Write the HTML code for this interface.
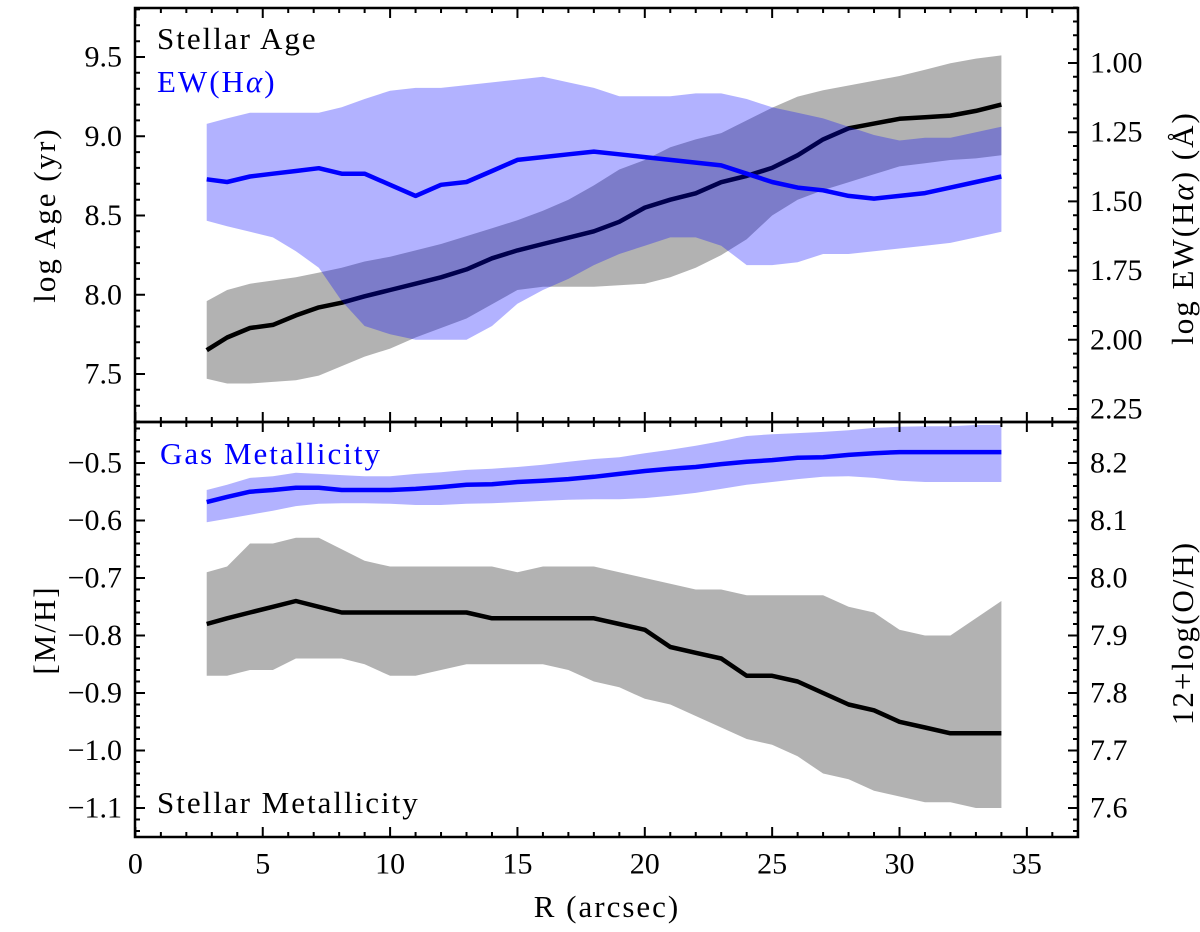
<!DOCTYPE html>
<html><head><meta charset="utf-8"><style>
html,body{margin:0;padding:0;background:#fff;}
svg{display:block;font-family:"Liberation Serif","DejaVu Serif",serif;}
</style></head><body>
<svg id="chart" width="1200" height="932" viewBox="0 0 1200 932" xmlns="http://www.w3.org/2000/svg">
<defs>
<clipPath id="clipTop"><rect x="135" y="8" width="943" height="414"/></clipPath>
<clipPath id="clipBot"><rect x="135" y="422" width="943" height="415"/></clipPath>
</defs>
<g id="topPlot" clip-path="url(#clipTop)"></g>
<g id="botPlot" clip-path="url(#clipBot)"></g>
<g id="axes"></g>
<g font-size="31" letter-spacing="2">
<text x="157" y="49" fill="#000">Stellar Age</text>
<text x="157" y="92" fill="#0000ff">EW(H<tspan font-style="italic">α</tspan>)</text>
<text x="160" y="464" fill="#0000ff">Gas Metallicity</text>
<text x="157" y="813" fill="#000">Stellar Metallicity</text>
<text transform="translate(55,215) rotate(-90)" text-anchor="middle">log Age (yr)</text>
<text transform="translate(55,630) rotate(-90)" text-anchor="middle">[M/H]</text>
<text transform="translate(1193,228) rotate(-90)" text-anchor="middle">log EW(H<tspan font-style="italic">α</tspan>) (Å)</text>
<text transform="translate(1193,633) rotate(-90)" text-anchor="middle">12+log(O/H)</text>
<text x="607" y="917" text-anchor="middle">R (arcsec)</text>
</g>
</svg>
<script>
const R = [2.8,3.6,4.5,5.4,6.3,7.2,8.1,9.0,10,11,12,13,14,15,16,17,18,19,20,21,22,23,24,25,26,27,28,29,30,31,32,33,34];
const ageMed = [7.65,7.73,7.79,7.81,7.87,7.92,7.95,7.99,8.03,8.07,8.11,8.16,8.23,8.28,8.32,8.36,8.40,8.46,8.55,8.60,8.64,8.71,8.75,8.80,8.88,8.98,9.05,9.08,9.11,9.12,9.13,9.16,9.20];
const ageHi = [7.96,8.03,8.07,8.09,8.11,8.14,8.17,8.21,8.24,8.28,8.32,8.37,8.42,8.47,8.53,8.60,8.69,8.79,8.85,8.93,8.98,9.02,9.10,9.18,9.25,9.29,9.32,9.35,9.38,9.42,9.46,9.49,9.51];
const ageLo = [7.47,7.44,7.44,7.45,7.46,7.49,7.55,7.61,7.66,7.73,7.79,7.85,7.94,8.03,8.05,8.05,8.05,8.06,8.07,8.11,8.17,8.25,8.35,8.50,8.60,8.66,8.71,8.76,8.81,8.83,8.85,8.86,8.88];
const ewMed = [1.42,1.43,1.41,1.40,1.39,1.38,1.40,1.40,1.44,1.48,1.44,1.43,1.39,1.35,1.34,1.33,1.32,1.33,1.34,1.35,1.36,1.37,1.40,1.43,1.45,1.46,1.48,1.49,1.48,1.47,1.45,1.43,1.41];
const ewHi = [1.22,1.20,1.18,1.18,1.18,1.18,1.16,1.13,1.10,1.09,1.09,1.08,1.07,1.06,1.05,1.07,1.09,1.12,1.12,1.12,1.11,1.11,1.13,1.16,1.18,1.20,1.23,1.26,1.28,1.27,1.27,1.25,1.23];
const ewLo = [1.57,1.59,1.61,1.63,1.68,1.74,1.86,1.95,1.98,2.00,2.00,2.00,1.95,1.87,1.82,1.78,1.73,1.69,1.66,1.63,1.63,1.66,1.73,1.73,1.72,1.69,1.69,1.68,1.67,1.66,1.65,1.63,1.61];
const mhMed = [-0.78,-0.77,-0.76,-0.75,-0.74,-0.75,-0.76,-0.76,-0.76,-0.76,-0.76,-0.76,-0.77,-0.77,-0.77,-0.77,-0.77,-0.78,-0.79,-0.82,-0.83,-0.84,-0.87,-0.87,-0.88,-0.90,-0.92,-0.93,-0.95,-0.96,-0.97,-0.97,-0.97];
const mhHi = [-0.69,-0.68,-0.64,-0.64,-0.63,-0.63,-0.65,-0.67,-0.68,-0.68,-0.68,-0.68,-0.68,-0.69,-0.68,-0.68,-0.68,-0.69,-0.70,-0.71,-0.72,-0.72,-0.73,-0.73,-0.73,-0.73,-0.75,-0.76,-0.79,-0.80,-0.80,-0.77,-0.74];
const mhLo = [-0.87,-0.87,-0.86,-0.86,-0.84,-0.84,-0.84,-0.85,-0.87,-0.87,-0.86,-0.85,-0.85,-0.85,-0.85,-0.86,-0.88,-0.89,-0.91,-0.92,-0.94,-0.96,-0.98,-0.99,-1.01,-1.04,-1.05,-1.07,-1.08,-1.09,-1.09,-1.10,-1.10];
const ohMed = [8.132,8.141,8.150,8.153,8.157,8.157,8.153,8.153,8.153,8.155,8.158,8.162,8.163,8.167,8.169,8.172,8.176,8.181,8.186,8.190,8.193,8.198,8.202,8.205,8.209,8.210,8.214,8.217,8.219,8.219,8.219,8.219,8.219];
const ohHi = [8.153,8.162,8.174,8.177,8.183,8.181,8.179,8.177,8.177,8.181,8.184,8.188,8.190,8.193,8.197,8.202,8.207,8.210,8.217,8.223,8.230,8.238,8.247,8.250,8.252,8.254,8.257,8.261,8.263,8.264,8.264,8.266,8.266];
const ohLo = [8.097,8.103,8.110,8.117,8.125,8.129,8.130,8.130,8.129,8.127,8.127,8.129,8.130,8.132,8.134,8.136,8.137,8.137,8.139,8.143,8.148,8.155,8.162,8.167,8.172,8.176,8.177,8.174,8.169,8.167,8.167,8.167,8.167];
const xTicks = [0,5,10,15,20,25,30,35];
const ageTicks = [7.5,8.0,8.5,9.0,9.5];
const ewTicks = [1.00,1.25,1.50,1.75,2.00,2.25];
const mhTicks = [-1.1,-1.0,-0.9,-0.8,-0.7,-0.6,-0.5];
const ohTicks = [7.6,7.7,7.8,7.9,8.0,8.1,8.2];

const NS = "http://www.w3.org/2000/svg";
const X0 = 135.4, XS = 25.47;
const xs = v => X0 + v * XS;
const yAge = v => 57 + (9.5 - v) * 158.5;
const yEW = v => 63 + (v - 1.0) * 276.8;
const yMH = v => 463 + (-0.5 - v) * 575;
const yOH = v => 463 + (8.2 - v) * 575;

function mk(tag, attrs, parent) {
  const e = document.createElementNS(NS, tag);
  for (const k in attrs) e.setAttribute(k, attrs[k]);
  parent.appendChild(e);
  return e;
}
function linePath(xv, yv, fy) {
  return xv.map((x, i) => (i ? "L" : "M") + xs(x).toFixed(1) + "," + fy(yv[i]).toFixed(1)).join("");
}
function bandPath(xv, hi, lo, fy) {
  let d = linePath(xv, hi, fy);
  for (let i = xv.length - 1; i >= 0; i--) d += "L" + xs(xv[i]).toFixed(1) + "," + fy(lo[i]).toFixed(1);
  return d + "Z";
}
const topG = document.getElementById("topPlot");
const botG = document.getElementById("botPlot");
const axesG = document.getElementById("axes");

let e;
e = mk("path", {d: bandPath(R, ageHi, ageLo, yAge), fill: "#000", "fill-opacity": "0.3"}, topG);


e = mk("path", {d: linePath(R, ageMed, yAge), fill: "none", stroke: "#000", "stroke-width": "4.5", "stroke-linejoin": "round"}, topG);


e = mk("path", {d: bandPath(R, ewHi, ewLo, yEW), fill: "#0000ff", "fill-opacity": "0.3"}, topG);


e = mk("path", {d: linePath(R, ewMed, yEW), fill: "none", stroke: "#0000ff", "stroke-width": "4.5", "stroke-linejoin": "round"}, topG);



e = mk("path", {d: bandPath(R, mhHi, mhLo, yMH), fill: "#000", "fill-opacity": "0.3"}, botG);


e = mk("path", {d: linePath(R, mhMed, yMH), fill: "none", stroke: "#000", "stroke-width": "4.5", "stroke-linejoin": "round"}, botG);


e = mk("path", {d: bandPath(R, ohHi, ohLo, yOH), fill: "#0000ff", "fill-opacity": "0.3"}, botG);


e = mk("path", {d: linePath(R, ohMed, yOH), fill: "none", stroke: "#0000ff", "stroke-width": "4.5", "stroke-linejoin": "round"}, botG);



let tp = "";
const L = 135, RT = 1078, T1 = 8, M = 422, B2 = 837;
for (let v = 0; v <= 37; v++) {
  const x = xs(v), len = v % 5 === 0 ? 10 : 5;
  [T1, M, B2].forEach(yy => {
    if (yy !== T1) tp += `M${x},${yy}v${-len}`;
    if (yy !== B2) tp += `M${x},${yy}v${len}`;
  });
}
function yTicks(fy, lo, hi, step, majEvery, x, dir, ymin, ymax) {
  const n = Math.round((hi - lo) / step);
  for (let i = 0; i <= n; i++) {
    const v = lo + i * step, y = fy(v);
    if (y < ymin - 0.5 || y > ymax + 0.5) continue;
    const len = i % majEvery === 0 ? 10 : 5;
    tp += `M${x},${y.toFixed(1)}h${dir * len}`;
  }
}
yTicks(yAge, 7.0, 9.8, 0.1, 5, L, 1, T1, M);
yTicks(yEW, 0.75, 2.3, 0.05, 5, RT, -1, T1, M);
yTicks(yMH, -1.2, -0.4, 0.02, 5, L, 1, M, B2);
yTicks(yOH, 7.5, 8.3, 0.02, 5, RT, -1, M, B2);
e = mk("path", {d: tp, stroke: "#000", "stroke-width": "2", fill: "none"}, axesG);


e = mk("rect", {x: L, y: T1, width: RT - L, height: M - T1, fill: "none", stroke: "#000", "stroke-width": "2.5"}, axesG);


e = mk("rect", {x: L, y: M, width: RT - L, height: B2 - M, fill: "none", stroke: "#000", "stroke-width": "2.5"}, axesG);



function label(txt, x, y, anchor, name) {
  const t = mk("text", {x: x, y: y, "text-anchor": anchor, "font-size": "30", "dominant-baseline": "central"}, axesG);
  t.textContent = txt;
  
  
}
const fmt = (v, d) => v.toFixed(d).replace("-", "\u2212");
xTicks.forEach(v => label(String(v), xs(v), 864, "middle", "x-tick-label"));
ageTicks.forEach(v => label(fmt(v, 1), 122, yAge(v), "end", "age-tick-label"));
ewTicks.forEach(v => label(fmt(v, 2), 1090, yEW(v), "start", "ew-tick-label"));
mhTicks.forEach(v => label(fmt(v, 1), 122, yMH(v), "end", "mh-tick-label"));
ohTicks.forEach(v => label(fmt(v, 1), 1090, yOH(v), "start", "oh-tick-label"));
</script>
</body></html>
